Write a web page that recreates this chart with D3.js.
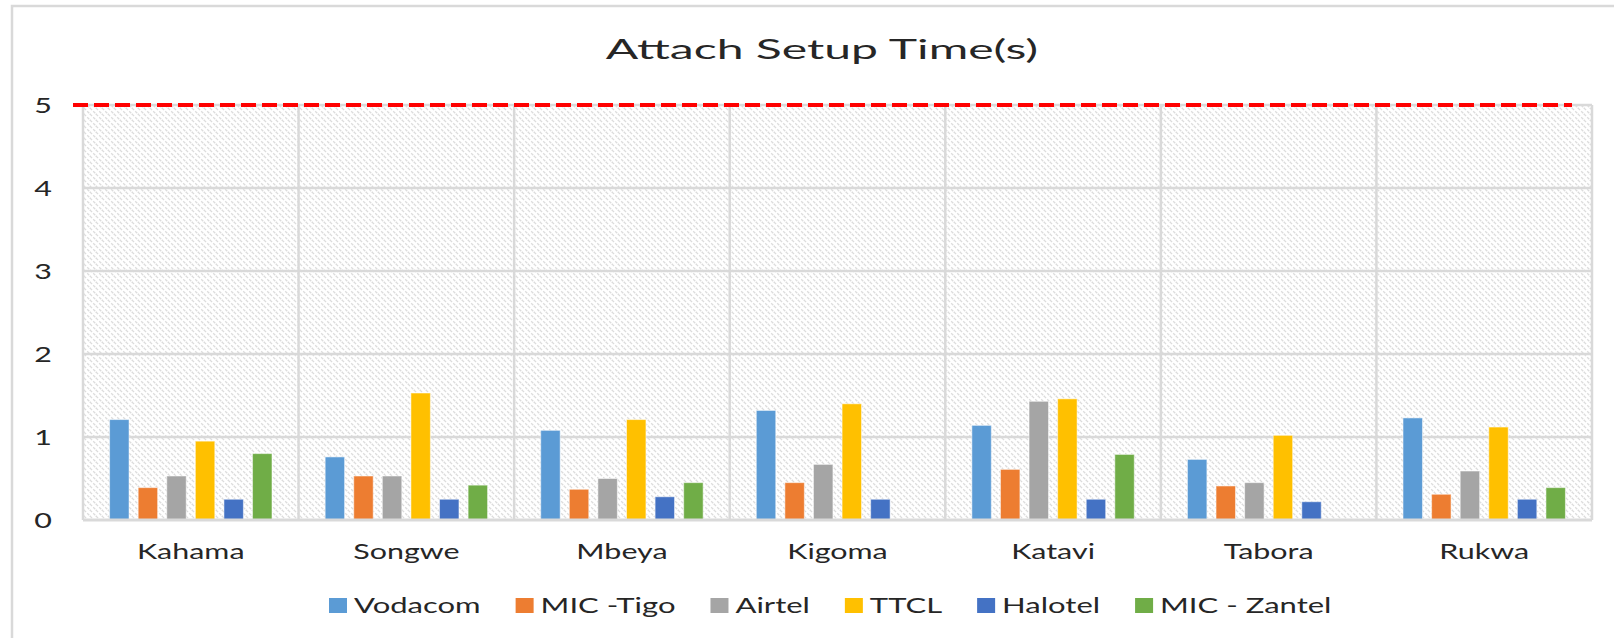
<!DOCTYPE html>
<html lang="en">
<head>
  <meta charset="UTF-8" />
  <title>Attach Setup Time(s)</title>
  <script src="https://d3js.org/d3.v7.min.js"></script>
  <style>
    body { margin: 0; background: #fff; }
    text { font-family: Lato, "Open Sans", sans-serif; fill: #262626; }
  </style>
</head>
<body>
  <svg id="chart" width="1614" height="638"></svg>

  <script>
    const regions = ["Kahama", "Songwe", "Mbeya", "Kigoma", "Katavi", "Tabora", "Rukwa"];
    const operators = ["Vodacom", "MIC -Tigo", "Airtel", "TTCL", "Halotel", "MIC - Zantel"];
    const colors = ["#5b9bd5", "#ed7d31", "#a5a5a5", "#ffc000", "#4472c4", "#70ad47"];

    // one array per operator, in region order
    const vodacom = [1.21, 0.76, 1.08, 1.32, 1.14, 0.73, 1.23];
    const tigo    = [0.39, 0.53, 0.37, 0.45, 0.61, 0.41, 0.31];
    const airtel  = [0.53, 0.53, 0.50, 0.67, 1.43, 0.45, 0.59];
    const ttcl    = [0.95, 1.53, 1.21, 1.40, 1.46, 1.02, 1.12];
    const halotel = [0.25, 0.25, 0.28, 0.25, 0.25, 0.22, 0.25];
    const zantel  = [0.80, 0.42, 0.45, 0, 0.79, 0, 0.39];
    const series = [vodacom, tigo, airtel, ttcl, halotel, zantel];

    const yTicks = [0, 1, 2, 3, 4, 5];
    const target = 5;

    const pLeft = 83, pRight = 1592, pTop = 105, pBottom = 520;

    const svg = d3.select("#chart");

    // hatch fill of the plot area
    const pat = svg.append("defs").append("pattern")
      .attr("id", "hatch")
      .attr("patternUnits", "userSpaceOnUse")
      .attr("width", 6).attr("height", 6);
    pat.append("path")
      .attr("d", "M0,0 L6,6 M-1,5 L1,7 M5,-1 L7,1")
      .attr("stroke", "#dcdcdc")
      .attr("stroke-width", 1.3)
      .attr("stroke-dasharray", "3,1.5");

    // outer frame
    svg.append("rect")
      .attr("x", 12).attr("y", 6)
      .attr("width", 1640).attr("height", 660)
      .attr("fill", "none")
      .attr("stroke", "#d9d9d9")
      .attr("stroke-width", 2.5);

    const x0 = d3.scaleBand().domain(regions).range([pLeft, pRight]).padding(0);
    const x1 = d3.scaleBand().domain(operators).range([0, x0.bandwidth()])
      .paddingInner(0.32).paddingOuter(0.93);
    const y = d3.scaleLinear().domain([0, 5]).range([pBottom, pTop]);

    svg.append("rect")
      .attr("x", pLeft).attr("y", pTop)
      .attr("width", pRight - pLeft).attr("height", pBottom - pTop)
      .attr("fill", "url(#hatch)");

    // gridlines
    svg.append("g")
      .selectAll("line")
      .data(yTicks.filter(d => d > 0 && d < 5))
      .join("line")
      .attr("x1", pLeft).attr("x2", pRight)
      .attr("y1", d => y(d)).attr("y2", d => y(d))
      .attr("stroke", "#d9d9d9").attr("stroke-width", 2.5);

    svg.append("g")
      .selectAll("line")
      .data(regions.concat(["end"]))
      .join("line")
      .attr("x1", (d, i) => pLeft + i * x0.step())
      .attr("x2", (d, i) => pLeft + i * x0.step())
      .attr("y1", pTop).attr("y2", pBottom)
      .attr("stroke", "#d9d9d9").attr("stroke-width", 2.5);

    svg.append("line")
      .attr("x1", pLeft).attr("x2", pRight)
      .attr("y1", pTop).attr("y2", pTop)
      .attr("stroke", "#d9d9d9").attr("stroke-width", 2.5);

    // bars
    svg.append("g")
      .selectAll("g")
      .data(regions)
      .join("g")
      .attr("transform", d => `translate(${x0(d)},0)`)
      .selectAll("rect")
      .data((d, i) => operators.map((op, j) => ({ op, j, v: series[j][i] })))
      .join("rect")
      .filter(d => d.v > 0)
      .attr("x", d => x1(d.op))
      .attr("width", x1.bandwidth())
      .attr("y", d => y(d.v))
      .attr("height", d => y(0) - y(d.v))
      .attr("fill", d => colors[d.j])
      .attr("stroke", "#ffffff")
      .attr("stroke-opacity", 0.5)
      .attr("stroke-width", 1);

    // x axis line
    svg.append("line")
      .attr("x1", pLeft).attr("x2", pRight)
      .attr("y1", pBottom).attr("y2", pBottom)
      .attr("stroke", "#d9d9d9").attr("stroke-width", 3);

    // target line
    svg.append("line")
      .attr("x1", pLeft - 10).attr("x2", pRight - 20)
      .attr("y1", y(target)).attr("y2", y(target))
      .attr("stroke", "#ff0000")
      .attr("stroke-width", 4)
      .attr("stroke-dasharray", "15,6");

    // text in the picture is stretched sideways
    function stretched(g, txt, x, yy, size, anchor, sx) {
      return g.append("text")
        .attr("transform", `translate(${x},${yy}) scale(${sx},1)`)
        .attr("font-size", size)
        .attr("text-anchor", anchor)
        .text(txt);
    }

    // y tick labels
    const yg = svg.append("g");
    yTicks.forEach(t => stretched(yg, t, 52, y(t) + 7.5, 21, "end", 1.45));

    // category labels
    const xg = svg.append("g");
    regions.forEach(r => stretched(xg, r, x0(r) + x0.bandwidth() / 2, 559, 21, "middle", 1.45));

    // title
    stretched(svg, "Attach Setup Time(s)", 822, 59, 26, "middle", 1.85);

    // legend
    const lg = svg.append("g");
    let lx = 329;
    operators.forEach((op, i) => {
      lg.append("rect")
        .attr("x", lx).attr("y", 598)
        .attr("width", 18).attr("height", 15)
        .attr("fill", colors[i]);
      const t = stretched(lg, op, lx + 25, 613, 22, "start", 1.41);
      const w = t.node().getComputedTextLength() * 1.41;
      lx += 25 + w + 35;
    });
  </script>
</body>
</html>
